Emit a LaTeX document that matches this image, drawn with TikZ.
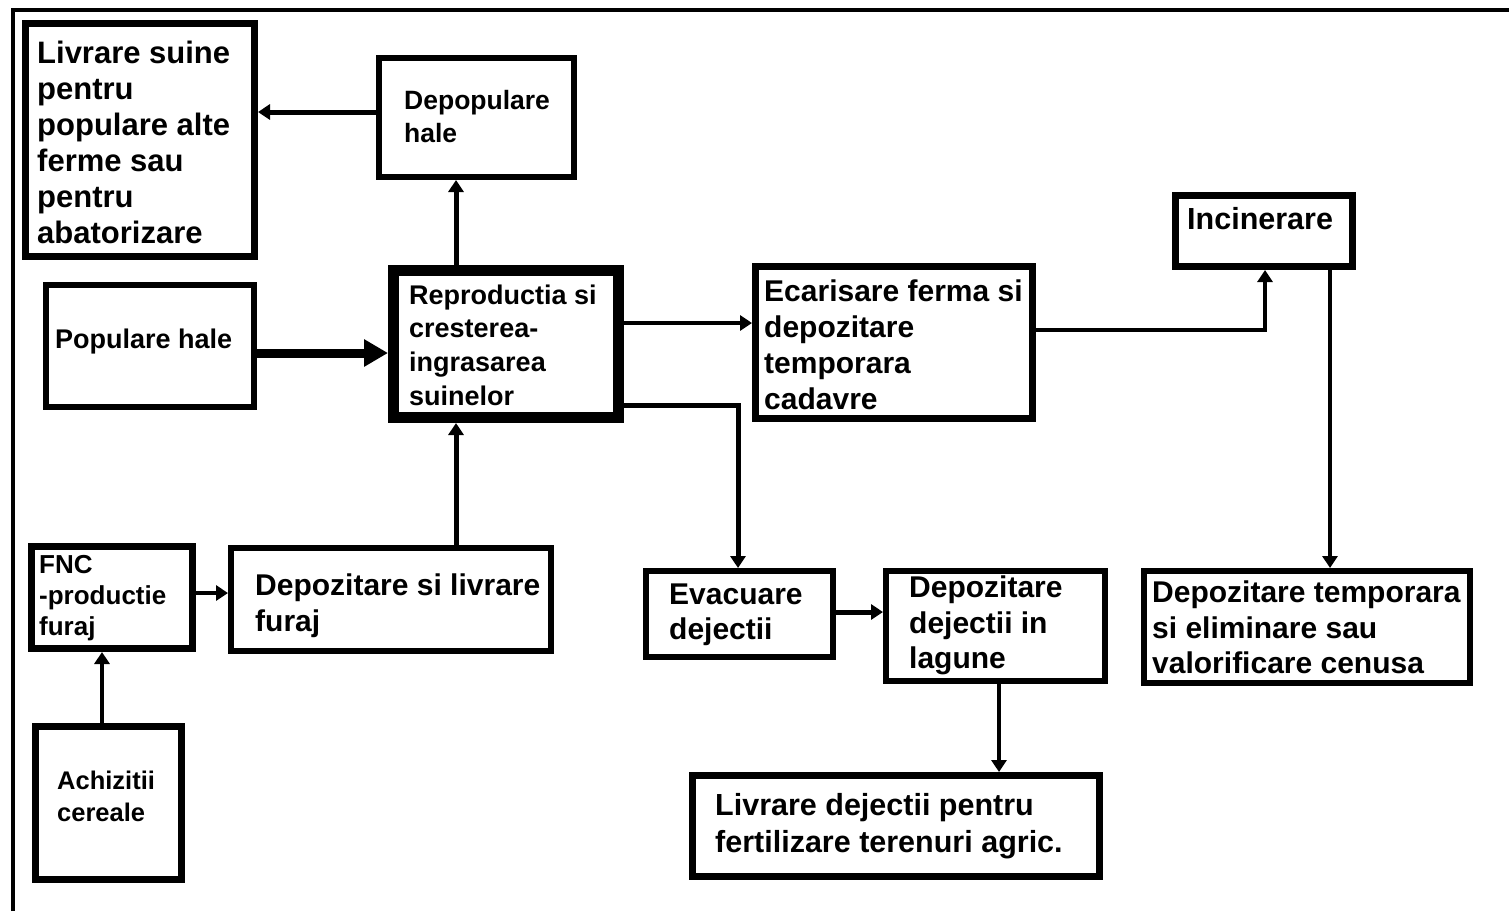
\documentclass[tikz,border=0pt]{standalone}
\usepackage{fontspec}
\setmainfont{Liberation Sans}
\usetikzlibrary{arrows.meta}
\tikzset{
  box/.style={draw, rectangle, inner sep=0pt},
  lbl/.style={anchor=west, inner sep=0pt, align=left},
  con/.style={-{Triangle[length=12pt,width=15pt]}, line width=4pt},
  bigcon/.style={-{Triangle[length=24pt,width=26pt]}, line width=9pt},
}
\newcommand\fz[2]{\bfseries\fontsize{#1}{#2}\selectfont}
\begin{document}
\begin{tikzpicture}[x=1pt,y=-1pt]
\useasboundingbox (0,0) rectangle (1509,911);
% frame
\draw[line width=3.5pt] (13,911) -- (13,10) -- (1509,10);
% boxes
\node[box, line width=7pt, minimum width=229pt, minimum height=233pt] (b1) at (140,140) {};
\node[box, line width=6pt, minimum width=195pt, minimum height=119pt] (b2) at (476.5,117.5) {};
\node[box, line width=6pt, minimum width=208pt, minimum height=122pt] (b3) at (150,346) {};
\node[box, line width=11pt, minimum width=225pt, minimum height=147pt] (b4) at (506,344) {};
\node[box, line width=7pt, minimum width=277pt, minimum height=152pt] (b5) at (894,342.5) {};
\node[box, line width=7pt, minimum width=177pt, minimum height=71pt] (b6) at (1264,231) {};
\node[box, line width=7pt, minimum width=161pt, minimum height=102pt] (b7) at (112,597.5) {};
\node[box, line width=6pt, minimum width=320pt, minimum height=103pt] (b8) at (391,599.5) {};
\node[box, line width=7pt, minimum width=146pt, minimum height=153pt] (b9) at (108.5,803) {};
\node[box, line width=6pt, minimum width=187pt, minimum height=86pt] (b10) at (739.5,614) {};
\node[box, line width=6pt, minimum width=219pt, minimum height=110pt] (b11) at (995.5,626) {};
\node[box, line width=6pt, minimum width=326pt, minimum height=112pt] (b12) at (1307,627) {};
\node[box, line width=7pt, minimum width=407pt, minimum height=101pt] (b13) at (896,826) {};
% texts
\node[lbl, font=\fz{31}{36}] (t1) at (37,142) {Livrare suine\\pentru\\populare alte\\ferme sau\\pentru\\abatorizare};
\node[lbl, font=\fz{26.5}{33}] (t2) at (404,116.5) {Depopulare\\hale};
\node[lbl, font=\fz{27}{33}] (t3) at (55,342) {Populare hale};
\node[lbl, font=\fz{27}{33.7}] (t4) at (409,345) {Reproductia si\\cresterea-\\ingrasarea\\suinelor};
\node[lbl, font=\fz{30}{36}] (t5) at (764,345) {Ecarisare ferma si\\depozitare\\temporara\\cadavre};
\node[lbl, font=\fz{30.5}{35}] (t6) at (1187,219) {Incinerare};
\node[lbl, font=\fz{26}{31}] (t7) at (39,598) {FNC\\-productie\\furaj};
\node[lbl, font=\fz{30}{36}] (t8) at (255,606) {Depozitare si livrare\\furaj};
\node[lbl, font=\fz{25.5}{32}] (t9) at (57,796) {Achizitii\\cereale};
\node[lbl, font=\fz{30}{35}] (t10) at (669,614.5) {Evacuare\\dejectii};
\node[lbl, font=\fz{30}{35.5}] (t11) at (909,625.5) {Depozitare\\dejectii in\\lagune};
\node[lbl, font=\fz{30}{35.5}] (t12) at (1152,627.5) {Depozitare temporara\\si eliminare sau\\valorificare cenusa};
\node[lbl, font=\fz{30.5}{37}] (t13) at (715,826.5) {Livrare dejectii pentru\\fertilizare terenuri agric.};
% helper coordinates
\coordinate (x456) at (456,0);
\coordinate (x738) at (738,0);
\coordinate (x102) at (102,0);
\coordinate (x1265) at (1265,0);
\coordinate (x1330) at (1330,0);
\coordinate (x999) at (999,0);
\coordinate (y112) at (0,112);
\coordinate (y353) at (0,353);
\coordinate (y323) at (0,323);
\coordinate (y405) at (0,405);
\coordinate (y593) at (0,593);
\coordinate (y330) at (0,330);
\coordinate (y612) at (0,612);
\coordinate (k1) at (738,405);
\coordinate (k2) at (1265,330);
% connectors
\draw[con, line width=5pt] (b4.north -| x456) -- (b2.south -| x456);
\draw[con, line width=5pt] (b2.west |- y112) -- (b1.east |- y112);
\draw[bigcon] (b3.east |- y353) -- (b4.west |- y353);
\draw[con] (b4.east |- y323) -- (b5.west |- y323);
\draw[con, line width=5pt] (b4.east |- y405) -- (k1) -- (b10.north -| x738);
\draw[con, line width=5pt] (b8.north -| x456) -- (b4.south -| x456);
\draw[con] (b7.east |- y593) -- (b8.west |- y593);
\draw[con] (b9.north -| x102) -- (b7.south -| x102);
\draw[con] (b5.east |- y330) -- (k2) -- (b6.south -| x1265);
\draw[con] (b6.south -| x1330) -- (b12.north -| x1330);
\draw[con, line width=5pt] (b10.east |- y612) -- (b11.west |- y612);
\draw[con] (b11.south -| x999) -- (b13.north -| x999);
\end{tikzpicture}
\end{document}
